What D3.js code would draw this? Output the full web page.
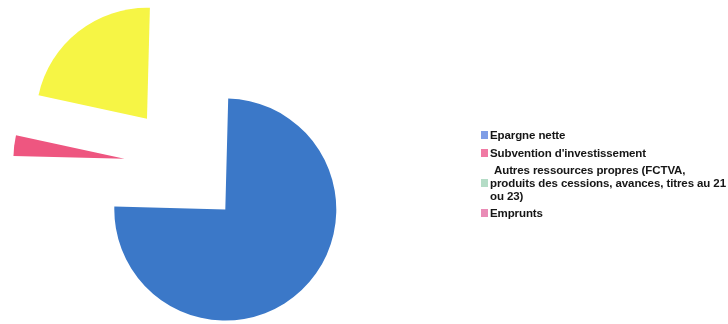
<!DOCTYPE html>
<html>
<head>
<meta charset="utf-8">
<script src="https://cdn.jsdelivr.net/npm/d3@7"></script>
<style>
  html, body { margin: 0; padding: 0; background: #fff; }
  svg { display: block; }
  .legend text { font-family: "Liberation Sans", Arial, sans-serif; font-weight: bold; font-size: 11.5px; fill: #151515; letter-spacing: -0.1px; }
</style>
</head>
<body>
<svg id="chart" width="728" height="324"></svg>
<script>
// Sources de financement des investissements (parts en %)
const categories = [
  "Epargne nette",
  "Subvention d'investissement",
  "Autres ressources propres (FCTVA,\nproduits des cessions, avances, titres au 21\nou 23)",
  "Emprunts"
];
const values = [75, 3, 0, 22];
const sliceColors = ["#3a78c8", "#ee5680", "#9fd3b4", "#f6f544"];
const legendColors = ["#7f9de6", "#f07aa4", "#b4dcc6", "#e98cb6"];

const svg = d3.select("#chart");

// light softening filter
svg.append("defs").append("filter")
  .attr("id", "soft")
  .append("feGaussianBlur")
  .attr("stdDeviation", 0.45);

const root = svg.append("g").attr("filter", "url(#soft)");

const cx = 184, cy = 166;       // pie centre
const radius = 111;
const explode = 60;             // distance each slice is pulled out
const rotation = 1.5 * Math.PI / 180;

const pie = d3.pie()
  .sort(null)
  .value(d => d)
  .startAngle(rotation)
  .endAngle(rotation + 2 * Math.PI);

const arc = d3.arc().innerRadius(0).outerRadius(radius);

const arcs = pie(values);

root.append("g")
  .attr("transform", `translate(${cx},${cy})`)
  .selectAll("path")
  .data(arcs.filter(a => a.value > 0))
  .join("path")
  .attr("d", arc)
  .attr("fill", d => sliceColors[d.index])
  .attr("transform", d => {
    const mid = (d.startAngle + d.endAngle) / 2;
    return `translate(${explode * Math.sin(mid)},${-explode * Math.cos(mid)})`;
  });

// Legend
const legend = root.append("g").attr("class", "legend");
const legendX = 481, textX = 490;
const lineH = 13;
const rowBase = [139, 157, 174, 217];   // first-line baselines

categories.forEach((label, i) => {
  const lines = label.split("\n");
  const base = rowBase[i];
  const midLine = Math.floor((lines.length - 1) / 2);
  const markerY = base + midLine * lineH - 8;
  legend.append("rect")
    .attr("x", legendX)
    .attr("y", markerY)
    .attr("width", 7)
    .attr("height", 8)
    .attr("fill", legendColors[i]);
  const t = legend.append("text").attr("x", textX).attr("y", base);
  lines.forEach((ln, j) => {
    t.append("tspan")
      .attr("x", textX + (j === 0 && lines.length > 1 ? 4 : 0))
      .attr("dy", j === 0 ? 0 : lineH)
      .text(ln);
  });
});
</script>
</body>
</html>
